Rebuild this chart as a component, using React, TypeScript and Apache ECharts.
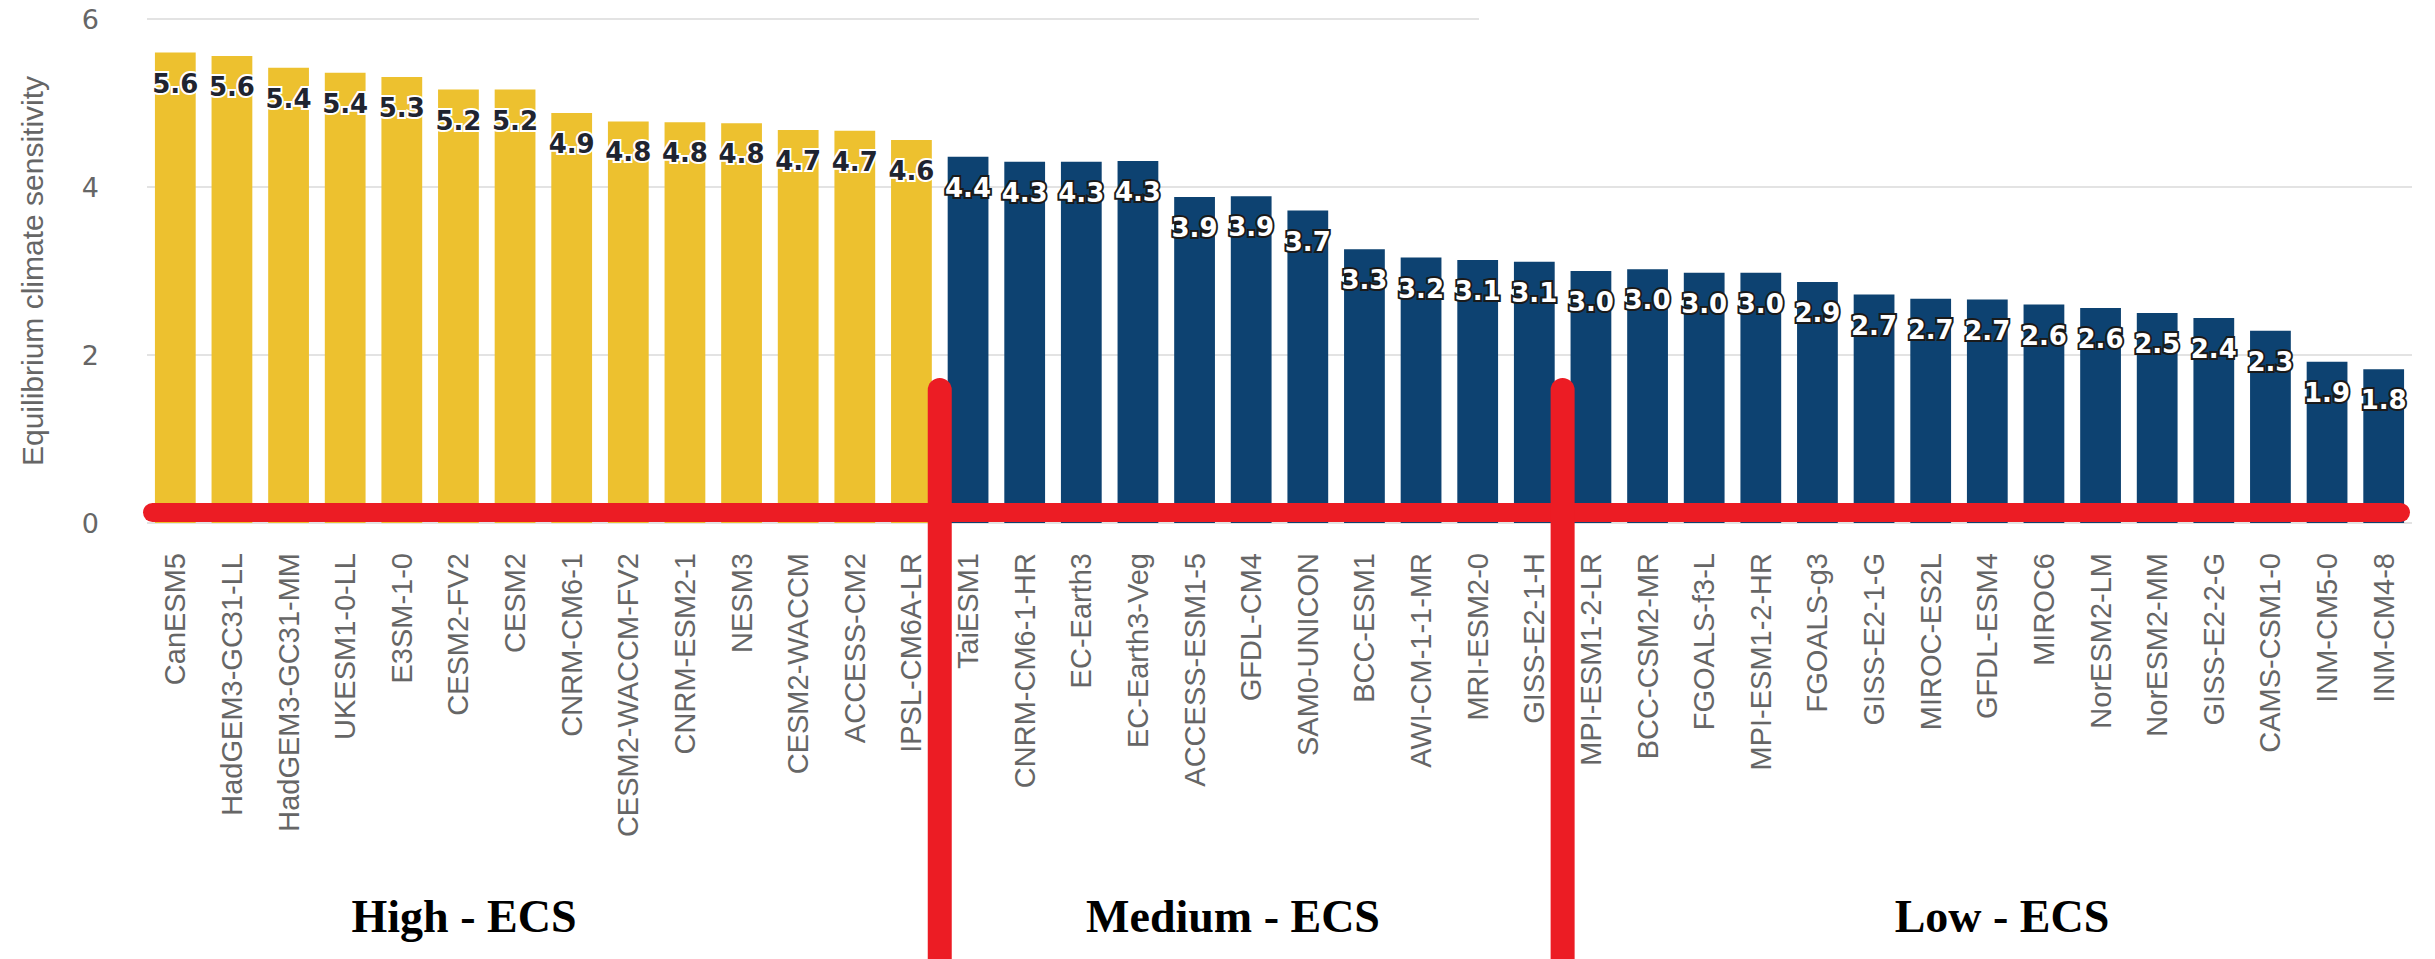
import React, { useEffect, useRef } from "react";
import * as echarts from "echarts";

const highModels = [
  "CanESM5", "HadGEM3-GC31-LL", "HadGEM3-GC31-MM", "UKESM1-0-LL", "E3SM-1-0",
  "CESM2-FV2", "CESM2", "CNRM-CM6-1", "CESM2-WACCM-FV2", "CNRM-ESM2-1",
  "NESM3", "CESM2-WACCM", "ACCESS-CM2", "IPSL-CM6A-LR",
];
const highValues = [5.6, 5.56, 5.42, 5.36, 5.31, 5.16, 5.16, 4.88, 4.78, 4.77, 4.76, 4.68, 4.67, 4.56];

const mediumModels = [
  "TaiESM1", "CNRM-CM6-1-HR", "EC-Earth3", "EC-Earth3-Veg", "ACCESS-ESM1-5",
  "GFDL-CM4", "SAM0-UNICON", "BCC-ESM1", "AWI-CM-1-1-MR", "MRI-ESM2-0", "GISS-E2-1-H",
];
const mediumValues = [4.36, 4.3, 4.3, 4.31, 3.88, 3.89, 3.72, 3.26, 3.16, 3.13, 3.11];

const lowModels = [
  "MPI-ESM1-2-LR", "BCC-CSM2-MR", "FGOALS-f3-L", "MPI-ESM1-2-HR", "FGOALS-g3",
  "GISS-E2-1-G", "MIROC-ES2L", "GFDL-ESM4", "MIROC6", "NorESM2-LM",
  "NorESM2-MM", "GISS-E2-2-G", "CAMS-CSM1-0", "INM-CM5-0", "INM-CM4-8",
];
const lowValues = [3.0, 3.02, 2.98, 2.98, 2.87, 2.72, 2.67, 2.66, 2.6, 2.56, 2.5, 2.44, 2.29, 1.92, 1.83];

const groupTitles = ["High - ECS", "Medium - ECS", "Low - ECS"];
const yAxisTitle = "Equilibrium climate sensitivity";

const YELLOW = "#EDC12F";
const NAVY = "#0D4271";
const RED = "#EC1C24";

export default function App() {
  const ref = useRef<HTMLDivElement>(null);

  useEffect(() => {
    const el = ref.current;
    if (!el) return;
    const chart = echarts.init(el, null, { renderer: "svg" });

    const categories = [...highModels, ...mediumModels, ...lowModels];
    const groups = [
      { values: highValues, color: YELLOW, text: "#1f2430", outline: "#ffffff" },
      { values: mediumValues, color: NAVY, text: "#ffffff", outline: "#1a1a1a" },
      { values: lowValues, color: NAVY, text: "#ffffff", outline: "#1a1a1a" },
    ];
    const data = groups.flatMap((g) =>
      g.values.map((v) => ({
        value: v,
        itemStyle: { color: g.color },
        label: { color: g.text, textBorderColor: g.outline },
      }))
    );

    chart.setOption({
      animation: false,
      backgroundColor: "#ffffff",
      grid: { left: 147, right: 23, top: 19, bottom: 436, containLabel: false },
      xAxis: {
        type: "category",
        data: categories,
        axisLine: { show: false },
        axisTick: { show: false },
        axisLabel: {
          interval: 0,
          rotate: 90,
          margin: 30,
          fontSize: 29,
          fontFamily: "Liberation Sans",
          color: "#666666",
        },
      },
      yAxis: {
        type: "value",
        min: 0,
        max: 6,
        interval: 2,
        name: yAxisTitle,
        nameLocation: "middle",
        nameGap: 100,
        nameTextStyle: { fontSize: 30, fontFamily: "Liberation Sans", color: "#666666" },
        axisLine: { show: false },
        axisTick: { show: false },
        axisLabel: {
          margin: 48,
          fontSize: 27,
          fontFamily: "DejaVu Sans",
          color: "#666666",
        },
        splitLine: { lineStyle: { color: "#e3e3e3", width: 2 } },
      },
      series: [
        {
          type: "bar",
          data,
          barWidth: "72%",
          label: {
            show: true,
            position: "insideTop",
            distance: 18,
            fontSize: 26,
            fontWeight: "bold",
            fontFamily: "DejaVu Sans",
            textBorderWidth: 4,
            formatter: (p: any) => Number(p.value).toFixed(1),
          },
        },
      ],
    });

    const px = (i: number) => chart.convertToPixel({ xAxisIndex: 0 }, i) as number;
    const zeroY = chart.convertToPixel({ yAxisIndex: 0 }, 0) as number;
    const band = px(1) - px(0);
    const leftX = px(0) - band / 2 - 4;
    const rightX = px(categories.length - 1) + band / 2 - 2;
    const b1 = (px(highModels.length - 1) + px(highModels.length)) / 2;
    const b2 =
      (px(highModels.length + mediumModels.length - 1) + px(highModels.length + mediumModels.length)) / 2;
    const vTop = zeroY - 145;
    const vw = 24;

    chart.setOption({
      graphic: [
        {
          type: "rect",
          shape: { x: 1479, y: 15, width: 960, height: 8 },
          style: { fill: "#ffffff" },
          z: 10,
        },
        {
          type: "rect",
          shape: { x: leftX, y: zeroY - 20, width: rightX - leftX, height: 19, r: 9.5 },
          style: { fill: RED },
          z: 20,
        },
        {
          type: "rect",
          shape: { x: b1 - vw / 2, y: vTop, width: vw, height: 1000, r: [12, 12, 0, 0] },
          style: { fill: RED },
          z: 21,
        },
        {
          type: "rect",
          shape: { x: b2 - vw / 2, y: vTop, width: vw, height: 1000, r: [12, 12, 0, 0] },
          style: { fill: RED },
          z: 21,
        },
        ...groupTitles.map((t, i) => ({
          type: "text",
          x: [464, 1233, 2002][i],
          y: 916,
          z: 22,
          style: {
            text: t,
            fontSize: 46,
            fontWeight: "bold",
            fontFamily: "Liberation Serif",
            fill: "#000000",
            align: "center",
            verticalAlign: "middle",
          },
        })),
      ],
    });

    return () => chart.dispose();
  }, []);

  return (
    <div
      ref={ref}
      style={{ position: "fixed", left: 0, top: 0, width: 2435, height: 959, background: "#fff" }}
    />
  );
}
